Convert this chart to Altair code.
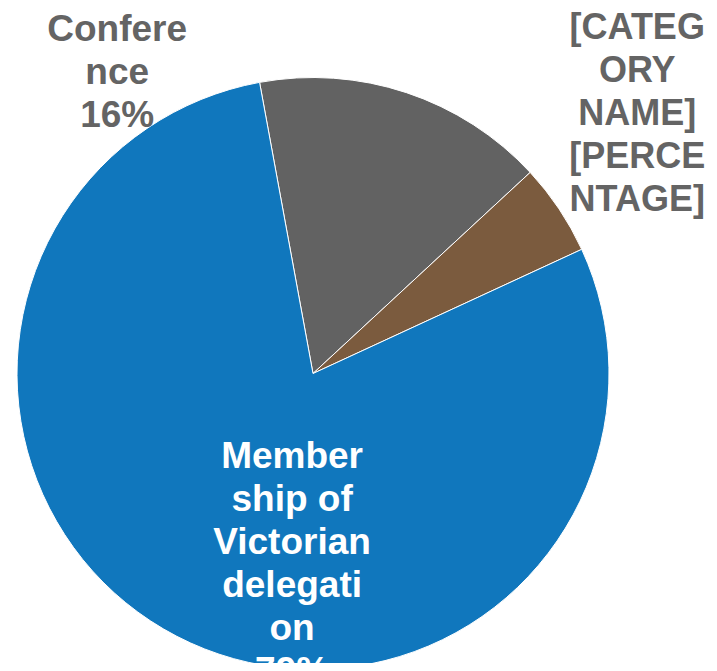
import math
import altair as alt
import pandas as pd

# Data
categories = ["Conference", "[CATEGORY NAME]", "Membership of Victorian delegation"]
values = [16, 5, 79]
labels = [
    "Confere\nnce\n16%",
    "[CATEG\nORY\nNAME]\n[PERCE\nNTAGE]",
    "Member\nship of\nVictorian\ndelegati\non\n79%",
]
order_idx = [0, 1, 2]

colors = ["#626262", "#7b5b3e", "#1077bd"]

df = pd.DataFrame({"category": categories, "value": values, "label": labels, "idx": order_idx})

start = math.radians(-10.4)
theta_scale = alt.Scale(domain=[0, 100], range=[start, start + 2 * math.pi])

CX, CY, R = 305, 365.5, 296

base = alt.Chart(df)

pie = base.mark_arc(outerRadius=R, stroke="white", strokeWidth=1).encode(
    theta=alt.Theta("value:Q", stack=True, scale=theta_scale),
    color=alt.Color("category:N", scale=alt.Scale(domain=categories, range=colors), legend=None),
    order=alt.Order("idx:Q"),
    x=alt.value(CX),
    y=alt.value(CY),
)


def label_layer(cat, radius, dx, dy, color, size):
    return (
        base.transform_window(cum="sum(value)", sort=[alt.SortField("idx")], frame=[None, 0])
        .transform_calculate(mid="datum.cum - datum.value / 2")
        .transform_filter(alt.datum.category == cat)
        .mark_text(
            font="Liberation Sans",
            fontWeight="bold",
            fontSize=size,
            lineHeight=43,
            lineBreak="\n",
            align="center",
            baseline="alphabetic",
            color=color,
            dx=dx,
            dy=dy,
        )
        .encode(
            theta=alt.Theta("mid:Q", scale=theta_scale),
            radius=alt.value(radius),
            text="label:N",
            x=alt.value(CX),
            y=alt.value(CY),
        )
    )


t1 = label_layer(categories[0], 330, -300, -19, "#646464", 37)
t2 = label_layer(categories[1], 330, 50, -151, "#646464", 36)
t3 = label_layer(categories[2], 178, 61, -64, "#ffffff", 37)

chart = (
    alt.layer(pie, t1, t2, t3)
    .properties(width=701, height=655, autosize="none", padding=0)
    .configure_view(strokeWidth=0)
)

chart.save("out.html", embed_options={"renderer": "svg", "actions": False})
